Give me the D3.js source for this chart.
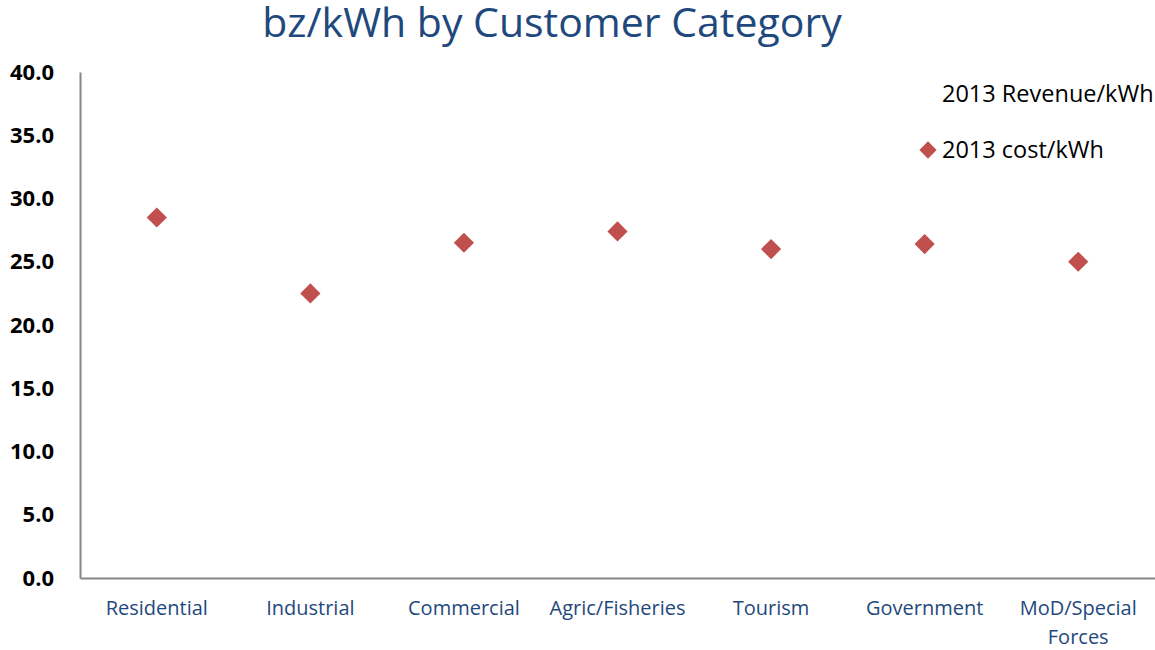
<!DOCTYPE html>
<html>
<head>
<meta charset="utf-8">
<script src="https://cdn.jsdelivr.net/npm/d3@7"></script>
<style>
  body { margin: 0; background: #fff; }
  svg text { font-family: "Open Sans", "Noto Sans", sans-serif; }
</style>
</head>
<body>
<div id="chart"></div>
<script>
// data
var categories = ["Residential", "Industrial", "Commercial", "Agric/Fisheries", "Tourism", "Government", "MoD/Special Forces"];
var costPerKwh = [28.5, 22.5, 26.5, 27.4, 26.0, 26.4, 25.0];
var yTicks = [0, 5, 10, 15, 20, 25, 30, 35, 40];
var legendLabels = ["2013 Revenue/kWh", "2013 cost/kWh"];

var width = 1155, height = 650;
var margin = {left: 80, right: 0, top: 72, bottom: 72};

var data = categories.map(function(c, i) { return {cat: c, value: costPerKwh[i]}; });

var svg = d3.select("div#chart").append("svg")
    .attr("width", width)
    .attr("height", height);

var xScale = d3.scaleBand()
    .domain(categories)
    .range([margin.left, 1155]);

var yScale = d3.scaleLinear()
    .domain([0, 40])
    .range([578, 72]);

// title
svg.append("text")
    .attr("x", 552)
    .attr("y", 37)
    .attr("text-anchor", "middle")
    .attr("font-size", "41px")
    .attr("fill", "#1f497d")
    .text("bz/kWh by Customer Category");

// y axis labels (no ticks drawn)
var yAxis = d3.axisLeft(yScale)
    .tickValues(yTicks)
    .tickFormat(d3.format(".1f"))
    .tickSize(0)
    .tickPadding(26);

var gy = svg.append("g")
    .attr("transform", "translate(" + margin.left + ",0)")
    .call(yAxis);
gy.select(".domain").attr("stroke", "#868686").attr("stroke-width", 2);
gy.selectAll("text")
    .attr("font-size", "22px")
    .attr("font-weight", "bold")
    .attr("fill", "#000")
    .attr("font-family", "'Open Sans', sans-serif");

// x axis
var xAxis = d3.axisBottom(xScale).tickSize(0).tickPadding(23);
var gx = svg.append("g")
    .attr("transform", "translate(0,578)")
    .call(xAxis);
gx.select(".domain").attr("stroke", "#868686").attr("stroke-width", 2);
gx.selectAll("text")
    .attr("font-size", "20px")
    .attr("fill", "#1f497d")
    .attr("font-family", "'Open Sans', sans-serif")
    .each(function(d) {
        if (d === "MoD/Special Forces") {
            var t = d3.select(this).text(null);
            t.append("tspan").attr("x", 0).attr("dy", "0.71em").text("MoD/Special");
            t.append("tspan").attr("x", 0).attr("dy", "1.45em").text("Forces");
            t.attr("dy", null);
        }
    });

// points
var diamond = d3.symbol().type(d3.symbolDiamond2).size(260);
svg.selectAll(".dot")
    .data(data)
    .enter()
    .append("path")
    .attr("class", "dot")
    .attr("d", diamond)
    .attr("transform", d => "translate(" + (xScale(d.cat) + xScale.bandwidth() / 2) + "," + yScale(d.value) + ")")
    .attr("fill", "#c0504d");

// legend
svg.append("text")
    .attr("x", 942)
    .attr("y", 102)
    .attr("font-size", "23.5px")
    .attr("fill", "#000")
    .text(legendLabels[0]);

svg.append("path")
    .attr("d", d3.symbol().type(d3.symbolDiamond2).size(190))
    .attr("transform", "translate(928,150)")
    .attr("fill", "#c0504d");

svg.append("text")
    .attr("x", 942)
    .attr("y", 158)
    .attr("font-size", "23.5px")
    .attr("fill", "#000")
    .text(legendLabels[1]);
</script>
</body>
</html>
